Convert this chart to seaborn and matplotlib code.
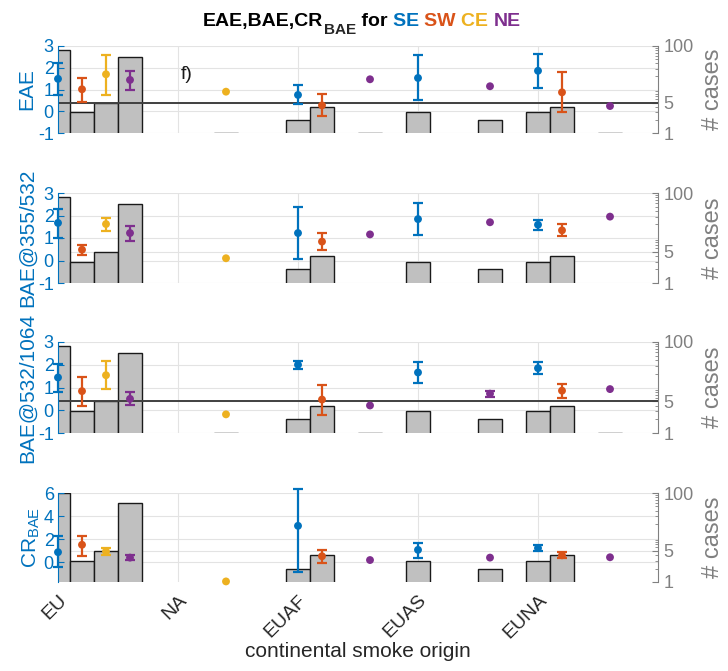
import numpy as np
import matplotlib
matplotlib.use("Agg")
import matplotlib.pyplot as plt
import seaborn as sns
import pandas as pd
from matplotlib.ticker import LogLocator, NullFormatter, FixedLocator

nan = np.nan

categories = ["EU", "NA", "EUAF", "EUAS", "EUNA"]
regions = ["SE", "SW", "CE", "NE"]
region_colors = ["#0072BD", "#D95319", "#EDB120", "#7E2F8E"]
panel_labels = ["EAE", "BAE@355/532", "BAE@532/1064", "CR$_{BAE}$"]

# ---- EAE (rows = SE, SW, CE, NE ; columns = categories)
eae_val = [[1.49, nan, 0.75, 1.53, 1.86],
           [1.01, nan, 0.27, nan, 0.87],
           [1.70, 0.90, nan, nan, nan],
           [1.44, nan, 1.47, 1.15, 0.24]]
eae_lo = [[0.73, nan, 0.33, 0.51, 1.06],
          [0.44, nan, -0.23, nan, -0.04],
          [0.73, nan, nan, nan, nan],
          [0.96, nan, nan, nan, nan]]
eae_hi = [[2.23, nan, 1.19, 2.57, 2.64],
          [1.55, nan, 0.78, nan, 1.79],
          [2.60, nan, nan, nan, nan],
          [1.83, nan, nan, nan, nan]]

# ---- BAE 355/532
bae1_val = [[1.67, nan, 1.22, 1.84, 1.59],
            [0.48, nan, 0.84, nan, 1.34],
            [1.62, 0.10, nan, nan, nan],
            [1.22, nan, 1.16, 1.70, 1.95]]
bae1_lo = [[0.99, nan, 0.07, 1.13, 1.37],
           [0.26, nan, 0.45, nan, 1.07],
           [1.30, nan, nan, nan, nan],
           [0.88, nan, nan, nan, nan]]
bae1_hi = [[2.29, nan, 2.38, 2.56, 1.79],
           [0.70, nan, 1.22, nan, 1.64],
           [1.89, nan, nan, nan, nan],
           [1.55, nan, nan, nan, nan]]

# ---- BAE 532/1064
bae2_val = [[1.44, nan, 2.00, 1.66, 1.85],
            [0.84, nan, 0.47, nan, 0.86],
            [1.54, -0.18, nan, nan, nan],
            [0.50, nan, 0.21, 0.73, 0.93]]
bae2_lo = [[0.79, nan, 1.82, 1.21, 1.59],
           [0.19, nan, -0.22, nan, 0.52],
           [0.92, nan, nan, nan, nan],
           [0.22, nan, nan, 0.59, nan]]
bae2_hi = [[2.03, nan, 2.18, 2.12, 2.12],
           [1.48, nan, 1.11, nan, 1.16],
           [2.15, nan, nan, nan, nan],
           [0.79, nan, nan, 0.86, nan]]

# ---- CR_BAE
cr_val = [[0.88, nan, 3.16, 1.08, 1.23],
          [1.52, nan, 0.53, nan, 0.61],
          [0.94, -1.65, nan, nan, nan],
          [0.41, nan, 0.20, 0.41, 0.44]]
cr_lo = [[-0.44, nan, -0.82, 0.38, 0.94],
         [0.53, nan, -0.06, nan, 0.38],
         [0.64, nan, nan, nan, nan],
         [0.20, nan, nan, nan, nan]]
cr_hi = [[2.28, nan, 6.37, 1.67, 1.52],
         [2.28, nan, 1.08, nan, 0.88],
         [1.23, nan, nan, nan, nan],
         [0.64, nan, nan, nan, nan]]

# ---- number of cases (right axis)
cases_eae = [[83, nan, 2, 3, 3],
             [3, nan, 4, nan, 4],
             [5, 1, nan, nan, nan],
             [57, nan, 1, 2, 1]]
cases_bae1 = [[83, nan, 2, 3, 3],
              [3, nan, 4, nan, 4],
              [5, nan, nan, nan, nan],
              [57, nan, nan, 2, nan]]
cases_bae2 = [[83, nan, 2, 3, 3],
              [3, nan, 4, nan, 4],
              [5, 1, nan, nan, nan],
              [57, nan, 1, 2, 1]]
cases_cr = [[100, nan, 2, 3, 3],
            [3, nan, 4, nan, 4],
            [5, nan, nan, nan, nan],
            [60, nan, nan, 2, nan]]

left_ylims = [(-1, 3), (-1, 3), (-1, 3), (-1.7, 6)]
left_ticks = [[-1, 0, 1, 2, 3], [-1, 0, 1, 2, 3], [-1, 0, 1, 2, 3], [0, 2, 4, 6]]
ref_line = [True, False, True, False]

sns.set_style("white")
plt.rcParams['font.family'] = ['Liberation Sans Narrow', 'Liberation Sans', 'DejaVu Sans']
plt.rcParams['mathtext.default'] = 'regular'
plt.rcParams['axes.unicode_minus'] = False

W, H = 728, 671
fig = plt.figure(figsize=(W / 100, H / 100), dpi=100)

blue = "#0072BD"
gray = "#808080"
gridc = "#e3e3e3"

panel_px = [(46, 133), (193, 283), (342, 433), (493, 582)]
xl, xr = 58, 658

vals = [eae_val, bae1_val, bae2_val, cr_val]
los = [eae_lo, bae1_lo, bae2_lo, cr_lo]
his = [eae_hi, bae1_hi, bae2_hi, cr_hi]
cases = [cases_eae, cases_bae1, cases_bae2, cases_cr]
offsets = [0.0, 0.2, 0.4, 0.6]
xbase = np.arange(1, len(categories) + 1)

axes = []
for p in range(4):
    top, bot = panel_px[p]
    ax = fig.add_axes([xl / W, 1 - bot / H, (xr - xl) / W, (bot - top) / H])
    ax2 = ax.twinx()
    ax.set_zorder(ax2.get_zorder() + 1)
    ax.patch.set_visible(False)
    axes.append(ax)

    # bars (# cases)
    for r in range(4):
        ax2.bar(xbase + offsets[r], np.array(cases[p][r], dtype=float), width=0.2,
                color="#c0c0c0", edgecolor="#1a1a1a", linewidth=1.0, zorder=2)
    ax2.set_yscale('log')
    ax2.set_ylim(1, 100)
    ax2.yaxis.set_major_locator(FixedLocator([1, 5, 100]))
    ax2.set_yticklabels(["1", "5", "100"])
    ax2.yaxis.set_minor_locator(LogLocator(base=10, subs=np.arange(2, 10)))
    ax2.yaxis.set_minor_formatter(NullFormatter())
    ax2.tick_params(axis='y', which='major', colors=gray, direction='in', length=4,
                    labelsize=13, pad=4)
    ax2.tick_params(axis='y', which='minor', colors=gray, direction='in', length=2)
    ax2.set_ylabel("# cases", color=gray, fontsize=17, labelpad=6)

    # grid behind bars
    for v in left_ticks[p]:
        ax2.plot([0, 1], [v, v], transform=ax.get_yaxis_transform(), color=gridc,
                 lw=0.8, zorder=0)
    ax2.axhline(5, color=gridc, lw=0.8, zorder=0)
    for xv in xbase:
        ax2.axvline(xv, color=gridc, lw=0.8, zorder=0)
    if ref_line[p]:
        ax2.axhline(5, color="#404040", lw=1.4, zorder=5)

    # points + error bars
    rows = []
    for r in range(4):
        for c in range(len(categories)):
            rows.append({"x": xbase[c] + offsets[r], "val": vals[p][r][c],
                         "lo": los[p][r][c], "hi": his[p][r][c], "region": regions[r]})
    df = pd.DataFrame(rows)
    for r, reg in enumerate(regions):
        d = df[df.region == reg]
        ax.errorbar(d.x, d.val, yerr=[d.val - d.lo, d.hi - d.val], fmt='none',
                    ecolor=region_colors[r], elinewidth=1.6, capsize=3.5, capthick=1.6,
                    zorder=3, clip_on=False)
    sns.scatterplot(data=df.dropna(subset=["val"]), x="x", y="val", hue="region",
                    hue_order=regions, palette=dict(zip(regions, region_colors)),
                    s=32, linewidth=0, marker='o', legend=False, ax=ax, zorder=4,
                    clip_on=False)

    ax.set_xlim(1, 6)
    ax.set_ylim(*left_ylims[p])
    ax.set_yticks(left_ticks[p])
    ax.set_xticks(xbase)
    ax.set_xlabel("")
    ax.set_ylabel(panel_labels[p], color=blue, fontsize=15, labelpad=1)
    ax.tick_params(axis='y', colors=blue, direction='in', length=4, labelsize=13, pad=3)
    ax.tick_params(axis='x', direction='in', length=5, color="#262626", width=1.2)
    if p == 3:
        ax.set_xticklabels(categories, rotation=45, ha='right', rotation_mode='anchor',
                           fontsize=14, color="#262626")
        ax.tick_params(axis='x', pad=7)
        ax.set_xlabel("continental smoke origin", fontsize=15, color="#262626", labelpad=0)
    else:
        ax.set_xticklabels([])

    for a in (ax, ax2):
        a.spines['top'].set_visible(False)
        a.spines['bottom'].set_visible(False)
    ax.spines['right'].set_visible(False)
    ax2.spines['left'].set_visible(False)
    ax.spines['left'].set_color(blue)
    ax.spines['left'].set_linewidth(0.8)
    ax2.spines['right'].set_color(gray)
    ax2.spines['right'].set_linewidth(0.8)

# panel annotation
axes[0].text(2.02, 1.7, "f)", fontsize=14, color="#1a1a1a", ha='left', va='center')

# multi-coloured title
ax0 = axes[0]
t0 = fig.text(203 / W, 1 - 30 / H, "EAE,BAE,CR", fontsize=14, fontweight='bold',
              color="black", va='bottom', ha='left')
t1 = ax0.annotate("BAE", xy=(1, 0), xycoords=t0, xytext=(0.5, -5),
                  textcoords='offset points', fontsize=11, fontweight='bold',
                  va='bottom', ha='left', annotation_clip=False)
prev_x, prev_y = t1, t0
pieces = [(" for ", "black"), ("SE ", region_colors[0]), ("SW ", region_colors[1]),
          ("CE ", region_colors[2]), ("NE", region_colors[3])]
for txt, col in pieces:
    t = ax0.annotate(txt, xy=(1, 0), xycoords=(prev_x, prev_y), fontsize=14,
                     fontweight='bold', color=col, va='bottom', ha='left',
                     annotation_clip=False)
    prev_x, prev_y = t, t0

fig.savefig("out.png", dpi=100)
